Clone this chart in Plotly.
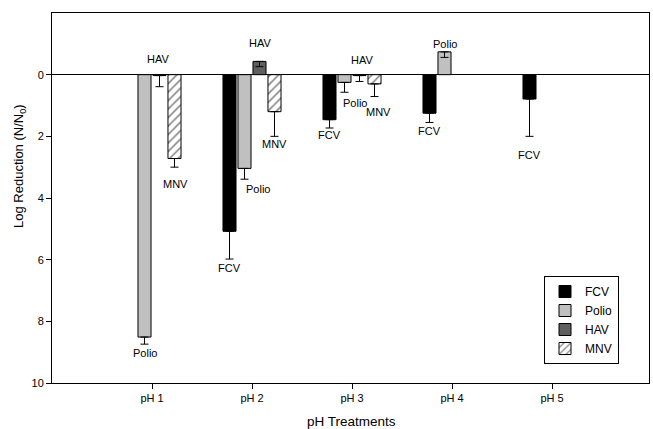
import plotly.graph_objects as go

# ---- data (log reduction, positive = reduction; plotted downward) ----
categories = ["pH 1", "pH 2", "pH 3", "pH 4", "pH 5"]
series_names = ["FCV", "Polio", "HAV", "MNV"]
fcv = [None, 5.08, 1.46, 1.25, 0.79]
fcv_err = [0, 0.90, 0.27, 0.30, 1.21]
polio = [8.51, 3.04, 0.25, -0.74, None]
polio_err = [0.23, 0.35, 0.32, 0.18, 0]
hav = [0.03, -0.43, 0.03, None, None]
hav_err = [0.36, 0.17, 0.19, 0, 0]
mnv = [2.72, 1.20, 0.30, None, None]
mnv_err = [0.28, 0.80, 0.41, 0, 0]
y_ticks = [0, 2, 4, 6, 8, 10]

# ---- styles ----
FONT = "Liberation Sans, Arial, Helvetica, sans-serif"
fills = {"FCV": "#000000", "Polio": "#c0c0c0", "HAV": "#5f5f5f", "MNV": "#ffffff"}
values = {"FCV": fcv, "Polio": polio, "HAV": hav, "MNV": mnv}
errors = {"FCV": fcv_err, "Polio": polio_err, "HAV": hav_err, "MNV": mnv_err}

W, H = 653, 429
ML, MR, MT, MB = 52, 4, 13, 46
BARGAP = 0.4
GROUPGAP = 0.13
slot = (1 - BARGAP) / len(series_names)

x_idx = list(range(len(categories)))

fig = go.Figure()
for name in series_names:
    marker = dict(color=fills[name], line=dict(color="black", width=1))
    if name == "MNV":
        marker["pattern"] = dict(shape="/", fgcolor="black", bgcolor="white",
                                 size=6, solidity=0.25)
    fig.add_trace(go.Bar(
        name=name, x=x_idx, y=values[name], marker=marker,
        error_y=dict(type="data", symmetric=False, array=errors[name],
                     arrayminus=[0] * len(categories), color="black",
                     thickness=1, width=4),
    ))

# label nudges: (series, group index) -> (dx px, dy px from anchor; + = below cap, - = above bar top)
label_pos = {
    ("Polio", 0): (0, 9), ("HAV", 0): (-2, -16), ("MNV", 0): (1, 17),
    ("FCV", 1): (0, 9), ("Polio", 1): (13, 10), ("HAV", 1): (0, -18), ("MNV", 1): (0, 8),
    ("FCV", 2): (0, 7), ("Polio", 2): (10, 11), ("HAV", 2): (2, -15), ("MNV", 2): (4, 15),
    ("FCV", 3): (0, 9), ("Polio", 3): (0, -8),
    ("FCV", 4): (0, 19),
}
for (name, i), (dx, dy) in label_pos.items():
    k = series_names.index(name)
    v = values[name][i]
    e = errors[name][i]
    anchor = v + e if dy > 0 else min(v, 0)
    fig.add_annotation(
        x=i + (k - 1.5) * slot, y=anchor, text=name, showarrow=False,
        xshift=dx, yshift=-dy, yanchor="middle", xanchor="center",
        font=dict(size=11, color="black", family=FONT),
    )

# axis titles placed as paper annotations
ph = H - MT - MB
pw = W - ML - MR
fig.add_annotation(
    xref="paper", yref="paper", x=(351.5 - ML) / pw, y=-(421.5 - (H - MB)) / ph,
    text="pH Treatments", showarrow=False, xanchor="center", yanchor="middle",
    font=dict(size=13.5, color="black", family=FONT),
)
fig.add_annotation(
    xref="paper", yref="paper", x=-(ML - 19) / pw, y=((H - MB) - 166) / ph,
    text="Log Reduction (N/N<sub>0</sub>)", textangle=-90, showarrow=False,
    xanchor="center", yanchor="middle",
    font=dict(size=13, color="black", family=FONT),
)

fig.update_layout(
    width=W, height=H,
    margin=dict(l=ML, r=MR, t=MT, b=MB, autoexpand=False),
    paper_bgcolor="white", plot_bgcolor="white",
    barmode="group", bargap=BARGAP, bargroupgap=GROUPGAP,
    font=dict(family=FONT, size=11, color="black"),
    legend=dict(x=(544 - ML) / pw, y=((H - MB) - 276) / ph,
                xanchor="left", yanchor="top",
                bgcolor="white", bordercolor="black", borderwidth=1,
                font=dict(size=12, family=FONT), tracegroupgap=0,
                traceorder="normal"),
    xaxis=dict(range=[-1, 4.97], tickvals=x_idx, ticktext=categories,
               showline=True, mirror=True, linecolor="black", linewidth=1,
               ticks="outside", ticklen=5, tickcolor="black", showgrid=False,
               zeroline=False, automargin=False),
    yaxis=dict(range=[10, -2], tickvals=y_ticks,
               showline=True, mirror=True, linecolor="black", linewidth=1,
               ticks="outside", ticklen=5, tickcolor="black", showgrid=False,
               zeroline=True, zerolinecolor="black", zerolinewidth=1,
               automargin=False),
)

fig.write_html("out.html", config={"displayModeBar": False},
               post_script="document.body.style.margin='0';document.body.style.padding='0';")
